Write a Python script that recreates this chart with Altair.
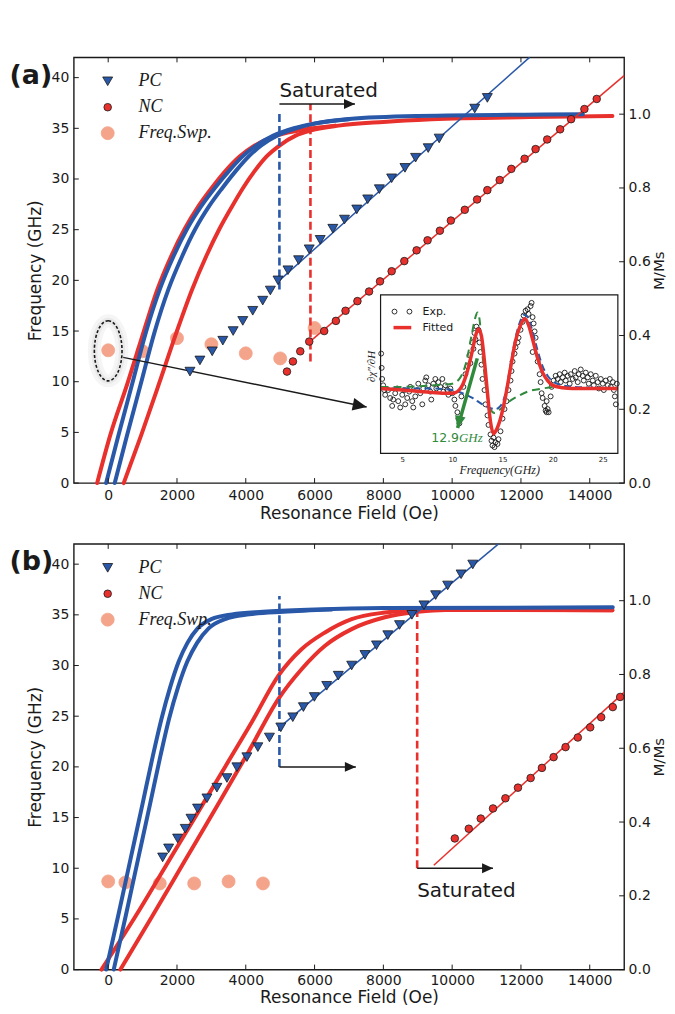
import altair as alt
import pandas as pd

# ---------------- layout constants ----------------
W, HT = 552, 427
XDOM = [-1000, 15000]
FDOM = [0, 42]
MDOM = [0, 1.154]
INSET_XDOM = [2.84, 26.5]
INSET_YDOM = [0, 1]
INSET_XRANGE = [307.7, 545.7]
INSET_YRANGE = [397.3, 238.3]

BLUE = "#2a58a8"
RED = "#e8302c"
SALMON = "#f4a48a"
GREEN = "#2f8a3c"
INK = "#1a1a1a"

# ---------------- tick values ----------------
X_TICKS = [0, 2000, 4000, 6000, 8000, 10000, 12000, 14000]
F_TICKS = [0, 5, 10, 15, 20, 25, 30, 35, 40]
M_TICKS = [0.0, 0.2, 0.4, 0.6, 0.8, 1.0]
INSET_TICKS = [5, 10, 15, 20, 25]
SERIES = ["PC", "NC", "Freq.Swp."]

# ---------------- panel (a) data ----------------
A_PC_H = [2377, 2667, 3024, 3333, 3633, 3913, 4203, 4493, 4715, 4937, 5227, 5536, 5845,
          6164, 6531, 6870, 7227, 7545, 7884, 8241, 8628, 8937, 9304, 9623, 10657, 11023]
A_PC_F = [11.0, 12.1, 13.0, 14.05, 15.0, 16.0, 17.0, 18.0, 19.0, 20.0, 21.0, 22.0, 23.07,
          24.0, 25.1, 26.0, 27.0, 28.0, 29.0, 30.07, 31.1, 32.1, 33.05, 34.0, 36.95, 38.0]
A_NC_H = [5197, 5371, 5584, 5845, 6280, 6620, 6900, 7246, 7585, 7903, 8241, 8609, 8966, 9285,
          9643, 9962, 10367, 10725, 11023, 11382, 11720, 12106, 12425, 12763, 13139, 13458,
          13845, 14203]
A_NC_F = [11.0, 12.0, 13.0, 13.96, 15.0, 16.0, 17.0, 17.95, 18.9, 19.9, 20.9, 21.9, 22.96,
          23.95, 24.9, 25.9, 26.96, 27.98, 28.9, 29.9, 31.0, 32.0, 32.95, 33.9, 34.9, 35.9,
          36.9, 37.9]
A_FS_H = [0, 1000, 2000, 3000, 4000, 5000, 6000]
A_FS_F = [13.1, 13.0, 14.3, 13.7, 12.8, 12.3, 15.3]

A_BLUE1_H = [-60, 300, 700, 1100, 1500, 1900, 2300, 2700, 3100, 3500, 3900, 4300, 4800, 5400,
             6000, 7000, 9000, 13800]
A_BLUE1_M = [0, 0.13, 0.27, 0.41, 0.525, 0.615, 0.69, 0.75, 0.80, 0.845, 0.885, 0.915, 0.942,
             0.962, 0.975, 0.987, 0.995, 1.0]
A_BLUE2_H = [190, 550, 950, 1350, 1750, 2150, 2540, 2930, 3320, 3700, 4080, 4450, 4920, 5480,
             6050, 7000]
A_BLUE2_M = [0, 0.13, 0.27, 0.41, 0.525, 0.615, 0.69, 0.75, 0.80, 0.845, 0.885, 0.915, 0.942,
             0.962, 0.975, 0.986]
A_RED1_H = [-321, 60, 560, 1030, 1430, 1830, 2230, 2620, 3010, 3400, 3820, 4260, 4900, 5800, 6600]
A_RED1_M = [0, 0.13, 0.27, 0.41, 0.525, 0.615, 0.69, 0.75, 0.80, 0.845, 0.885, 0.915, 0.942,
            0.96, 0.969]
A_RED2_H = [451, 960, 1480, 1990, 2440, 2850, 3240, 3600, 3920, 4250, 4600, 4980, 5450, 5900,
            6700, 8000, 9400, 12250, 14660]
A_RED2_M = [0, 0.13, 0.27, 0.41, 0.525, 0.615, 0.69, 0.75, 0.80, 0.845, 0.885, 0.915, 0.942,
            0.956, 0.969, 0.979, 0.986, 0.992, 0.995]

A_PC_FIT_H = [4978, 12250]
A_PC_FIT_F = [20.0, 42.0]
A_NC_FIT_H = [5880, 15000]
A_NC_FIT_F = [14.0, 40.2]

A_BLUE_DASH = {"H": [4978], "f0": [19.1], "f1": [36.8]}
A_RED_DASH = {"H": [5880], "f0": [12.0], "f1": [37.4]}
A_SAT_ARROW = {"H0": [4978], "H1": [7174], "f": [37.4]}
A_SAT_TEXT = {"H": [4978], "f": [38.1], "t": ["Saturated"]}
A_ELLIPSE = {"H": [0], "f": [13.05]}
A_POINTER = {"H": [434, 7514], "f": [12.4, 7.5]}

# ---------------- inset data (frequency GHz, normalised signal) ----------------
INSET_EXP = [
    (2.9, 0.63), (2.95, 0.54), (3.0, 0.47), (3.1, 0.43), (3.2, 0.40), (3.3, 0.37),
    (3.6, 0.40), (3.8, 0.35), (4.0, 0.30), (4.1, 0.34), (4.3, 0.38), (4.5, 0.41),
    (4.6, 0.33), (4.8, 0.29), (5.0, 0.37), (5.2, 0.40), (5.3, 0.31), (5.5, 0.35),
    (5.7, 0.39), (5.8, 0.42), (6.0, 0.33), (6.1, 0.29), (6.3, 0.36), (6.5, 0.40),
    (6.6, 0.44), (6.8, 0.38), (7.0, 0.31), (7.1, 0.41), (7.3, 0.46), (7.4, 0.48),
    (7.6, 0.43), (7.8, 0.39), (7.9, 0.34), (8.1, 0.44), (8.3, 0.47), (8.4, 0.41),
    (8.6, 0.45), (8.8, 0.42), (9.0, 0.47), (9.1, 0.39), (9.3, 0.43), (9.5, 0.40),
    (9.6, 0.37), (9.8, 0.41), (10.0, 0.38), (10.2, 0.34), (10.3, 0.30), (10.5, 0.26),
    (10.6, 0.22), (10.7, 0.19), (10.9, 0.36), (11.1, 0.42), (11.3, 0.50), (11.5, 0.55),
    (11.7, 0.62), (11.8, 0.57), (12.0, 0.70), (12.1, 0.66), (12.2, 0.76), (12.3, 0.72),
    (12.4, 0.80), (12.6, 0.78), (12.7, 0.70), (12.8, 0.64), (12.9, 0.56), (13.0, 0.47),
    (13.2, 0.40), (13.3, 0.31), (13.5, 0.24), (13.6, 0.18), (13.8, 0.12), (13.9, 0.08),
    (14.0, 0.05), (14.1, 0.10), (14.2, 0.04), (14.3, 0.07), (14.5, 0.06), (14.6, 0.09),
    (14.8, 0.14), (15.0, 0.22), (15.2, 0.28), (15.4, 0.33), (15.6, 0.40), (15.8, 0.46),
    (15.9, 0.52), (16.0, 0.58), (16.2, 0.63), (16.3, 0.67), (16.5, 0.70), (16.6, 0.73),
    (16.8, 0.78), (17.0, 0.83), (17.1, 0.87), (17.3, 0.90), (17.5, 0.91), (17.6, 0.88),
    (17.8, 0.93), (17.9, 0.95), (18.0, 0.86), (18.1, 0.82), (18.2, 0.77), (18.3, 0.73),
    (18.0, 0.64), (18.5, 0.58), (18.7, 0.50), (18.8, 0.45), (18.9, 0.38), (19.0, 0.35),
    (19.2, 0.30), (19.3, 0.27), (19.4, 0.26), (19.5, 0.28), (19.6, 0.26), (19.4, 0.33),
    (19.8, 0.36), (19.9, 0.42), (20.1, 0.46), (20.3, 0.49), (20.5, 0.47), (20.7, 0.50),
    (20.8, 0.45), (21.0, 0.48), (21.2, 0.51), (21.3, 0.46), (21.5, 0.49), (21.7, 0.44),
    (21.8, 0.50), (22.0, 0.47), (22.2, 0.52), (22.3, 0.48), (22.5, 0.45), (22.6, 0.50),
    (22.8, 0.53), (23.0, 0.49), (23.1, 0.46), (23.3, 0.51), (23.5, 0.48), (23.6, 0.44),
    (23.8, 0.50), (24.0, 0.46), (24.1, 0.43), (24.3, 0.49), (24.5, 0.45), (24.6, 0.41),
    (24.8, 0.47), (25.0, 0.44), (25.1, 0.40), (25.3, 0.46), (25.5, 0.43), (25.7, 0.47),
    (25.8, 0.42), (26.0, 0.45), (26.1, 0.40), (26.2, 0.36), (26.3, 0.31), (26.4, 0.44),
]
INSET_RED_F = [2.84, 4, 5, 6, 7, 8, 9, 10, 10.5, 11, 11.5, 12, 12.3, 12.6, 12.9, 13.2, 13.5,
               13.8, 14.1, 14.4, 14.8, 15.3, 15.8, 16.3, 16.8, 17.2, 17.6, 18, 18.5, 19, 19.5,
               20, 21, 22, 24, 26.5]
INSET_RED_V = [0.41, 0.405, 0.40, 0.395, 0.39, 0.385, 0.38, 0.38, 0.39, 0.43, 0.52, 0.65, 0.74,
               0.785, 0.74, 0.58, 0.38, 0.2, 0.125, 0.15, 0.22, 0.36, 0.54, 0.71, 0.81, 0.85,
               0.81, 0.72, 0.60, 0.51, 0.46, 0.43, 0.415, 0.41, 0.41, 0.41]
INSET_BLUE_F = [2.84, 5, 8, 10, 11, 12, 13, 13.8, 14.3, 14.8, 15.3, 15.8, 16.3, 16.8, 17.1,
                17.5, 18, 18.5, 19, 19.5, 20, 21, 22, 24, 26.5]
INSET_BLUE_V = [0.41, 0.41, 0.41, 0.40, 0.38, 0.35, 0.31, 0.285, 0.28, 0.30, 0.38, 0.56, 0.73,
                0.84, 0.875, 0.86, 0.77, 0.65, 0.55, 0.49, 0.455, 0.43, 0.42, 0.415, 0.41]
INSET_GREEN_F = [2.84, 5, 8, 10, 10.8, 11.4, 11.9, 12.3, 12.5, 12.7, 13.0, 13.4, 13.8, 14.2,
                 14.8, 15.5, 16.5, 17.5, 19, 20.5, 22, 26.5]
INSET_GREEN_V = [0.42, 0.42, 0.43, 0.44, 0.48, 0.58, 0.74, 0.86, 0.89, 0.85, 0.62, 0.40, 0.28,
                 0.255, 0.28, 0.32, 0.36, 0.39, 0.41, 0.42, 0.41, 0.41]
INSET_GREEN_ARROW = {"f0": [12.48], "v0": [0.60], "f1": [10.52], "v1": [0.161]}
INSET_LABEL_129 = {"f": [10.66], "v": [0.096]}
INSET_LEG_EXP = {"f": [4.23, 5.72], "v": [0.895, 0.895]}
INSET_LEG_FIT = {"f0": [4.13], "f1": [5.9], "v": [0.794]}
INSET_LEG_TXT = {"f": [7.02, 7.02], "v": [0.895, 0.794], "t": ["Exp.", "Fitted"]}
INSET_YLABEL = {"f": [1.995], "v": [0.549], "t": ["\u2202\u03c7\u2033/\u2202H"]}

# ---------------- panel (b) data ----------------
B_PC_H = [1583, 1757, 2018, 2241, 2407, 2598, 2871, 3161, 3452, 3742, 4032, 4351, 4688, 5019,
          5367, 5675, 5994, 6353, 6690, 7079, 7465, 7800, 8130, 8470, 8830, 9180, 9520, 9870,
          10260, 10600]
B_PC_F = [11.07, 11.96, 12.94, 13.9, 14.9, 15.9, 16.9, 17.95, 18.9, 19.97, 20.96, 21.95, 22.9,
          23.9, 24.9, 25.9, 26.9, 28.0, 29.0, 30.0, 31.05, 32.0, 33.0, 34.0, 35.0, 35.95, 36.95,
          37.9, 39.0, 39.97]
B_NC_H = [10077, 10483, 10831, 11188, 11548, 11913, 12282, 12610, 12950, 13297, 13654, 14014,
          14333, 14670, 14885]
B_NC_F = [12.94, 13.9, 14.9, 15.9, 16.9, 17.95, 18.9, 19.9, 20.96, 21.95, 22.9, 23.9, 24.9,
          25.9, 26.9]
B_FS_H = [0, 500, 1500, 2500, 3500, 4500]
B_FS_F = [8.7, 8.6, 8.5, 8.5, 8.7, 8.5]

B_BLUE1_H = [-60, 300, 650, 1000, 1300, 1550, 1800, 2050, 2300, 2600, 3000, 3600, 4500, 6000,
             8000, 14670]
B_BLUE1_M = [0, 0.15, 0.30, 0.45, 0.58, 0.68, 0.765, 0.835, 0.885, 0.925, 0.95, 0.963, 0.970,
             0.976, 0.98, 0.982]
B_BLUE2_H = [161, 520, 870, 1220, 1520, 1770, 2030, 2300, 2580, 2920, 3400, 4100, 5100, 6500]
B_BLUE2_M = [0, 0.15, 0.30, 0.45, 0.58, 0.68, 0.765, 0.835, 0.885, 0.925, 0.95, 0.963, 0.970,
             0.976]
B_RED1_H = [-196, 790, 1661, 2532, 3402, 4177, 4950, 5628, 6304, 7079, 8045, 9011, 11000, 14660]
B_RED1_M = [0, 0.144, 0.279, 0.414, 0.55, 0.671, 0.797, 0.869, 0.914, 0.95, 0.968, 0.975,
            0.976, 0.974]
B_RED2_H = [355, 1275, 2241, 3208, 4078, 4950, 5628, 6304, 7079, 8045, 9011, 9800, 14660]
B_RED2_M = [0, 0.144, 0.297, 0.45, 0.59, 0.734, 0.815, 0.878, 0.923, 0.955, 0.970, 0.975, 0.974]

B_PC_FIT_H = [4978, 11350]
B_PC_FIT_F = [23.9, 42.0]
B_NC_FIT_H = [9467, 15000]
B_NC_FIT_F = [10.3, 27.35]

B_BLUE_DASH = {"H": [4978], "f0": [20.0], "f1": [36.85]}
B_RED_DASH = {"H": [8983], "f0": [10.0], "f1": [35.4]}
B_BLUE_ARROW = {"H0": [4978], "H1": [7200], "f": [20.0]}
B_RED_ARROW = {"H0": [8983], "H1": [11188], "f": [10.0]}
B_SAT_TEXT = {"H": [8983], "f": [7.2], "t": ["Saturated"]}

# ---------------- shapes ----------------
ARROW = "M0,0L-2,-0.9L-2,0.9Z"
ELLIPSE = "M0,-1A0.46,1,0,1,1,0,1A0.46,1,0,1,1,0,-1Z"

# ---------------- scales / axes ----------------
xs = alt.Scale(domain=XDOM, nice=False, zero=False)
fs = alt.Scale(domain=FDOM, nice=False, zero=False)
ms = alt.Scale(domain=MDOM, nice=False, zero=False)
ixs = alt.Scale(domain=INSET_XDOM, range=INSET_XRANGE, nice=False, zero=False)
iys = alt.Scale(domain=INSET_YDOM, range=INSET_YRANGE, nice=False, zero=False)

XAX_A = alt.Axis(values=X_TICKS, format="d", title="Resonance Field (Oe)", ticks=False,
                 domain=False, grid=False, labelPadding=5, titlePadding=4)
XAX_B = alt.Axis(values=X_TICKS, format="d", title="Resonance Field (Oe)", ticks=False,
                 domain=False, grid=False, labelPadding=4, titlePadding=2)
FAX = alt.Axis(values=F_TICKS, format="d", title="Frequency (GHz)", orient="left", ticks=False,
               domain=False, grid=False, labelPadding=5, titlePadding=7)
MAX = alt.Axis(values=M_TICKS, format=".1f", title="M/Ms", orient="right", ticks=False,
               domain=False, grid=False, labelPadding=4, titlePadding=1, titleAngle=270,
               titleBaseline="top", titleFontSize=15)
IXAX = alt.Axis(values=INSET_TICKS, format="d", title="Frequency(GHz)", orient="bottom",
                offset=-29.7, ticks=False, domain=False, grid=False, labelFontSize=7,
                labelPadding=2, titleFont="Liberation Serif", titleFontStyle="italic",
                titleFontSize=12, titlePadding=2)

LEG = alt.Legend(orient="none", legendX=25, legendY=15, title=None, padding=0,
                 labelFont="Liberation Serif", labelFontStyle="italic", labelFontSize=18,
                 labelColor=INK, labelOffset=22, rowPadding=8, symbolStrokeWidth=0.8)
FILL_SC = alt.Scale(domain=SERIES, range=[BLUE, RED, SALMON])
SHAPE_SC = alt.Scale(domain=SERIES, range=["triangle-down", "circle", "circle"])
SIZE_SC = alt.Scale(type="ordinal", domain=SERIES, range=[100, 58, 170])
STROKE_SC = alt.Scale(domain=SERIES, range=[INK, INK, SALMON])

CUR = {"xax": XAX_A}


def X(field="H"):
    return alt.X(field, type="quantitative", scale=xs, axis=CUR["xax"])


def YF(field="f", axis=True):
    return alt.Y(field, type="quantitative", scale=fs, axis=FAX if axis else None)


def YM(field="M"):
    return alt.Y(field, type="quantitative", scale=ms, axis=MAX)


def IX(field):
    return alt.X(field, type="quantitative", scale=ixs, axis=IXAX)


def IY(field):
    return alt.Y(field, type="quantitative", scale=iys, axis=None)


def pts(h, f, name, axis=True):
    df = pd.DataFrame({"H": h, "f": f, "series": [name] * len(h)})
    return alt.Chart(df).mark_point(filled=True, opacity=1, strokeWidth=0.8).encode(
        x=X(), y=YF(axis=axis),
        fill=alt.Fill("series:N", scale=FILL_SC, legend=LEG),
        shape=alt.Shape("series:N", scale=SHAPE_SC, legend=LEG),
        size=alt.Size("series:N", scale=SIZE_SC, legend=LEG),
        stroke=alt.Stroke("series:N", scale=STROKE_SC, legend=LEG),
    )


def curve(h, m, color):
    df = pd.DataFrame({"H": h, "M": m})
    return alt.Chart(df).mark_line(color=color, strokeWidth=4, strokeCap="round",
                                   interpolate="monotone").encode(x=X(), y=YM())


def fitline(h, f, color):
    df = pd.DataFrame({"H": h, "f": f})
    return alt.Chart(df).mark_line(color=color, strokeWidth=1.5).encode(x=X(), y=YF())


def dash(d, color):
    return alt.Chart(pd.DataFrame(d)).mark_rule(color=color, strokeWidth=2.6,
                                                 strokeDash=[8, 4]).encode(
        x=X(), y=YF("f0"), y2="f1")


def harrow(d):
    df = pd.DataFrame(d)
    line = alt.Chart(df).mark_rule(color=INK, strokeWidth=1.5).encode(x=X("H0"), x2="H1", y=YF())
    head = alt.Chart(df).mark_point(shape=ARROW, filled=True, color=INK, opacity=1,
                                    size=121).encode(x=X("H1"), y=YF())
    return [line, head]


def sat_text(d):
    return alt.Chart(pd.DataFrame(d)).mark_text(align="left", baseline="alphabetic",
                                                fontSize=20, color=INK).encode(
        x=X(), y=YF(), text="t:N")


def ticks():
    xt = pd.DataFrame({"t": X_TICKS})
    ft = pd.DataFrame({"t": F_TICKS})
    bot = alt.Chart(xt).mark_rule(color=INK, strokeWidth=1).encode(
        x=X("t"), y=alt.value(HT), y2=alt.value(HT - 5))
    top = alt.Chart(xt).mark_rule(color=INK, strokeWidth=1).encode(
        x=X("t"), y=alt.value(0), y2=alt.value(5))
    left = alt.Chart(ft).mark_rule(color=INK, strokeWidth=1).encode(
        y=YF("t"), x=alt.value(0), x2=alt.value(5))
    return [bot, top, left]


def right_ticks():
    mt = pd.DataFrame({"t": M_TICKS})
    return alt.Chart(mt).mark_rule(color=INK, strokeWidth=1).encode(
        y=YM("t"), x=alt.value(W), x2=alt.value(W - 5))


def panel_label(txt):
    return alt.Chart(pd.DataFrame({"t": [txt]})).mark_text(
        align="left", baseline="middle", fontSize=27, fontWeight="bold", color=INK).encode(
        x=alt.value(-64.5), y=alt.value(18.5), text="t:N")


# ---------------- panel (a) ----------------
CUR["xax"] = XAX_A
a_bottom = alt.layer(pts(A_FS_H, A_FS_F, "Freq.Swp.", axis=False))
a_mag = alt.layer(
    curve(A_RED1_H, A_RED1_M, RED), curve(A_RED2_H, A_RED2_M, RED),
    curve(A_BLUE2_H, A_BLUE2_M, BLUE), curve(A_BLUE1_H, A_BLUE1_M, BLUE),
    right_ticks(),
)
ell_df = pd.DataFrame(A_ELLIPSE)
a_top = alt.layer(
    *ticks(),
    dash(A_BLUE_DASH, BLUE), dash(A_RED_DASH, RED),
    fitline(A_PC_FIT_H, A_PC_FIT_F, BLUE), fitline(A_NC_FIT_H, A_NC_FIT_F, RED),
    *harrow(A_SAT_ARROW), sat_text(A_SAT_TEXT),
    alt.Chart(pd.DataFrame(A_POINTER)).mark_line(color=INK, strokeWidth=1.4).encode(x=X(), y=YF()),
    alt.Chart(pd.DataFrame(A_POINTER).tail(1)).mark_point(
        shape=ARROW, filled=True, color=INK, opacity=1, size=196, angle=11.6).encode(x=X(), y=YF()),
    alt.Chart(ell_df).mark_point(shape=ELLIPSE, filled=False, color="#999999", opacity=0.09,
                                 strokeWidth=13, size=3636).encode(x=X(), y=YF()),
    alt.Chart(ell_df).mark_point(shape=ELLIPSE, filled=False, color="#999999", opacity=0.12,
                                 strokeWidth=6, size=3636).encode(x=X(), y=YF()),
    alt.Chart(ell_df).mark_point(shape=ELLIPSE, filled=False, color=INK, opacity=1,
                                 strokeWidth=1.6, strokeDash=[3, 2], size=3636).encode(x=X(), y=YF()),
    pts(A_PC_H, A_PC_F, "PC"), pts(A_NC_H, A_NC_F, "NC"),
    panel_label("(a)"),
)
a_main = alt.layer(a_bottom, a_mag, a_top).resolve_scale(y="independent")

exp_df = pd.DataFrame(INSET_EXP, columns=["f", "v"])
frame_df = pd.DataFrame({"x0": [INSET_XDOM[0]], "x1": [INSET_XDOM[1]],
                         "y0": [INSET_YDOM[0]], "y1": [INSET_YDOM[1]]})
ga = pd.DataFrame(INSET_GREEN_ARROW)
inset = alt.layer(
    alt.Chart(frame_df).mark_rect(fill="white").encode(x=IX("x0"), x2="x1", y=IY("y0"), y2="y1"),
    alt.Chart(exp_df).mark_point(shape="circle", filled=False, color=INK, opacity=1,
                                 strokeWidth=0.9, size=24).encode(x=IX("f"), y=IY("v")),
    alt.Chart(pd.DataFrame({"f": INSET_GREEN_F, "v": INSET_GREEN_V})).mark_line(
        color=GREEN, strokeWidth=2, strokeDash=[8, 5], interpolate="monotone").encode(
        x=IX("f"), y=IY("v")),
    alt.Chart(pd.DataFrame({"f": INSET_BLUE_F, "v": INSET_BLUE_V})).mark_line(
        color=BLUE, strokeWidth=2, strokeDash=[7, 4], interpolate="monotone").encode(
        x=IX("f"), y=IY("v")),
    alt.Chart(pd.DataFrame({"f": INSET_RED_F, "v": INSET_RED_V})).mark_line(
        color=RED, strokeWidth=3.5, interpolate="monotone").encode(x=IX("f"), y=IY("v")),
    alt.Chart(ga).mark_rule(color=GREEN, strokeWidth=3.5).encode(
        x=IX("f0"), x2="f1", y=IY("v0"), y2="v1"),
    alt.Chart(ga).mark_point(shape=ARROW, filled=True, color=GREEN, opacity=1, size=144,
                             angle=103.4).encode(x=IX("f1"), y=IY("v1")),
    alt.Chart(pd.DataFrame(INSET_LABEL_129)).mark_text(
        align="right", baseline="middle", fontSize=12.5, color=GREEN, text="12.9").encode(
        x=IX("f"), y=IY("v")),
    alt.Chart(pd.DataFrame(INSET_LABEL_129)).mark_text(
        align="left", baseline="middle", fontSize=13, color=GREEN, text="GHz",
        font="Liberation Serif", fontStyle="italic").encode(x=IX("f"), y=IY("v")),
    alt.Chart(pd.DataFrame(INSET_LEG_EXP)).mark_point(
        shape="circle", filled=False, color=INK, opacity=1, strokeWidth=0.9, size=24).encode(
        x=IX("f"), y=IY("v")),
    alt.Chart(pd.DataFrame(INSET_LEG_FIT)).mark_rule(color=RED, strokeWidth=3.5).encode(
        x=IX("f0"), x2="f1", y=IY("v")),
    alt.Chart(pd.DataFrame(INSET_LEG_TXT)).mark_text(
        align="left", baseline="middle", fontSize=11, color=INK).encode(
        x=IX("f"), y=IY("v"), text="t:N"),
    alt.Chart(pd.DataFrame(INSET_YLABEL)).mark_text(
        align="center", baseline="middle", fontSize=11, color=INK, angle=270,
        font="Liberation Serif", fontStyle="italic").encode(x=IX("f"), y=IY("v"), text="t:N"),
    alt.Chart(frame_df).mark_rect(fillOpacity=0, stroke=INK, strokeWidth=1.2).encode(
        x=IX("x0"), x2="x1", y=IY("y0"), y2="y1"),
)

panel_a = alt.layer(a_main, inset).resolve_scale(x="independent", y="independent").properties(
    width=W, height=HT)

# ---------------- panel (b) ----------------
CUR["xax"] = XAX_B
b_bottom = alt.layer(pts(B_FS_H, B_FS_F, "Freq.Swp.", axis=False))
b_mag = alt.layer(
    curve(B_RED1_H, B_RED1_M, RED), curve(B_RED2_H, B_RED2_M, RED),
    curve(B_BLUE2_H, B_BLUE2_M, BLUE), curve(B_BLUE1_H, B_BLUE1_M, BLUE),
    right_ticks(),
)
b_top = alt.layer(
    *ticks(),
    dash(B_BLUE_DASH, BLUE), dash(B_RED_DASH, RED),
    fitline(B_PC_FIT_H, B_PC_FIT_F, BLUE), fitline(B_NC_FIT_H, B_NC_FIT_F, RED),
    *harrow(B_BLUE_ARROW), *harrow(B_RED_ARROW), sat_text(B_SAT_TEXT),
    pts(B_PC_H, B_PC_F, "PC"), pts(B_NC_H, B_NC_F, "NC"),
    panel_label("(b)"),
)
panel_b = alt.layer(b_bottom, b_mag, b_top).resolve_scale(y="independent").properties(
    width=W, height=HT)

chart = alt.vconcat(panel_a, panel_b, spacing=17).resolve_scale(
    fill="independent", shape="independent", size="independent", stroke="independent"
).resolve_legend(
    fill="independent", shape="independent", size="independent", stroke="independent"
).properties(
    padding={"left": 0, "top": 44, "right": 0, "bottom": 0}
).configure_view(stroke=INK, strokeWidth=1.4).configure_axis(
    labelFont="DejaVu Sans", labelFontSize=14, labelColor=INK, titleFont="DejaVu Sans",
    titleFontSize=17, titleFontWeight="normal", titleColor=INK
).configure_text(font="DejaVu Sans")

chart.save("out.html", embed_options={"renderer": "svg", "actions": False})
